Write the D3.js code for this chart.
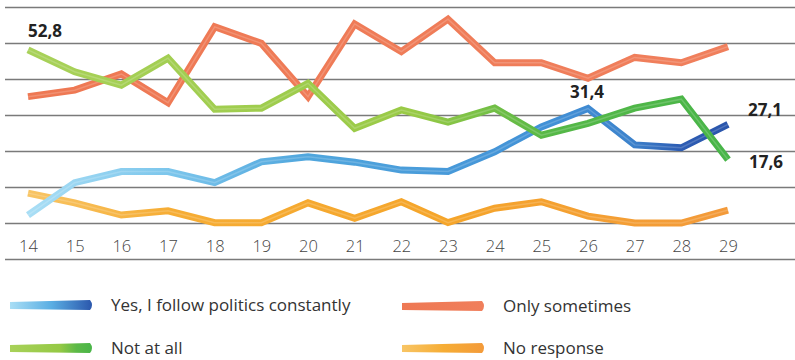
<!DOCTYPE html>
<html><head><meta charset="utf-8">
<script src="https://cdn.jsdelivr.net/npm/d3@7"></script>
<style>
html,body{margin:0;padding:0;background:#fff;}
svg{display:block;}
text{font-family:"Open Sans","Noto Sans",sans-serif;}
</style></head><body>
<svg id="c" width="795" height="360"></svg>
<script>
const years = [14,15,16,17,18,19,20,21,22,23,24,25,26,27,28,29];
const yesConstantly = [2.2,11.2,14.3,14.3,11.2,17.0,18.4,16.9,14.7,14.3,19.8,26.7,31.8,21.7,20.9,27.4];
const onlySometimes = [35.1,36.9,41.4,33.4,54.5,49.9,35.1,55.3,47.6,56.6,44.5,44.5,40.2,46.0,44.5,49.0];
const notAtAll = [48.1,42.0,38.3,45.8,31.6,31.9,38.8,26.3,31.4,28.0,31.9,24.4,27.7,31.9,34.4,17.6];
const noResponse = [8.3,5.6,2.2,3.4,0.1,0.1,5.6,1.3,5.9,0.1,4.1,5.9,1.9,0,0,3.6];
const gridValues = [-10,0,10,20,30,40,50,60];
const seriesNames = ["Yes, I follow politics constantly","Not at all","Only sometimes","No response"];
const annotations = [
  {text:"52,8", series:"notAtAll", i:0},
  {text:"31,4", series:"yes", i:12},
  {text:"27,1", series:"yes", i:15},
  {text:"17,6", series:"notAtAll", i:15}
];

const svg = d3.select("#c");
const x = d3.scaleLinear().domain([14,29]).range([28,728]);
const y = d3.scaleLinear().domain([0,60]).range([223,7]);

const defs = svg.append("defs");
function grad(id, stops, x1, x2){
  const g = defs.append("linearGradient").attr("id",id)
    .attr("gradientUnits","userSpaceOnUse").attr("x1",x1).attr("x2",x2).attr("y1",0).attr("y2",0);
  stops.forEach(s=>g.append("stop").attr("offset",s[0]).attr("stop-color",s[1]));
}
const X0 = x(14), X1 = x(29);
grad("gBlue",[[0,"#a9def5"],[0.2,"#7cc6ec"],[0.4,"#50a6dd"],[0.75,"#4190d6"],[0.86,"#3d83cc"],[0.93,"#2d5db4"],[1,"#2a55ab"]],X0,X1);
grad("gGreen",[[0,"#a8d159"],[0.55,"#99ca46"],[0.68,"#6cbd45"],[0.75,"#55b847"],[1,"#48b548"]],X0,X1);
grad("gOrange",[[0,"#ee7853"],[1,"#f07f5c"]],X0,X1);
grad("gYellow",[[0,"#f8c565"],[0.2,"#f6ad35"],[0.6,"#f5a52a"],[1,"#f39a3a"]],X0,X1);

svg.append("g").selectAll("line").data(gridValues).join("line")
  .attr("x1",5).attr("x2",795)
  .attr("y1",d=>y(d)+0.5).attr("y2",d=>y(d)+0.5)
  .attr("stroke","#7a7a7a").attr("stroke-width",1.3);

const xAxis = d3.axisBottom(x).tickValues(years).tickSize(0).tickPadding(0).tickFormat(d3.format("d"));
const ax = svg.append("g").attr("transform","translate(0,240)").call(xAxis);
ax.select(".domain").remove();
ax.selectAll("text").attr("font-size",16.5).attr("fill","#444").attr("font-weight",300)
  .attr("font-family","'Open Sans','Noto Sans',sans-serif");

const line = d3.line().x((d,i)=>x(years[i])).y(d=>y(d)).curve(d3.curveLinear);
const series = [
  {key:"noResponse", vals:noResponse, c:"url(#gYellow)"},
  {key:"onlySometimes", vals:onlySometimes, c:"url(#gOrange)"},
  {key:"yes", vals:yesConstantly, c:"url(#gBlue)"},
  {key:"notAtAll", vals:notAtAll, c:"url(#gGreen)"}
];
const lg = svg.append("g");
series.forEach(s=>{
  lg.append("path").attr("d",line(s.vals)).attr("fill","none")
    .attr("stroke",s.c).attr("stroke-width",7).attr("stroke-linejoin","miter").attr("stroke-linecap","butt");
  lg.append("path").attr("d",line(s.vals)).attr("fill","none")
    .attr("stroke","#fff").attr("stroke-opacity",0.18).attr("stroke-width",1.5);
});

const valsBy = {yes:yesConstantly, notAtAll:notAtAll};
const offs = [[0,-13,"start"],[-1,-11,"middle"],[20,-8,"start"],[21,8,"start"]];
svg.append("g").selectAll("text").data(annotations).join("text")
  .attr("x",(d,k)=>x(years[d.i])+offs[k][0])
  .attr("y",(d,k)=>y(valsBy[d.series][d.i])+offs[k][1])
  .attr("text-anchor",(d,k)=>offs[k][2])
  .attr("font-size",17).attr("font-weight",700).attr("fill","#222")
  .text(d=>d.text);

const legend = [
  {name:seriesNames[0], g:"lgBlue", stops:[[0,"#a9def5"],[0.5,"#5aaee3"],[1,"#2a55ab"]], x:10, y:305},
  {name:seriesNames[1], g:"lgGreen", stops:[[0,"#a8d159"],[0.6,"#95c945"],[0.8,"#5cb947"],[1,"#48b548"]], x:10, y:348},
  {name:seriesNames[2], g:"lgOrange", stops:[[0,"#ee7853"],[1,"#f07f5c"]], x:402, y:306},
  {name:seriesNames[3], g:"lgYellow", stops:[[0,"#f8c565"],[0.5,"#f6ad35"],[1,"#f39a3a"]], x:402, y:348}
];
legend.forEach(l=>{
  grad(l.g,l.stops,l.x,l.x+83);
  svg.append("path")
    .attr("d",`M${l.x},${l.y-3} L${l.x+80},${l.y-5} Q${l.x+84},${l.y} ${l.x+80},${l.y+5} L${l.x},${l.y+4} Z`)
    .attr("fill",`url(#${l.g})`);
  svg.append("text").attr("x",l.x+101).attr("y",l.y+6)
    .attr("font-size",17).attr("fill","#333").attr("font-weight",400).text(l.name);
});
</script>
</body></html>
